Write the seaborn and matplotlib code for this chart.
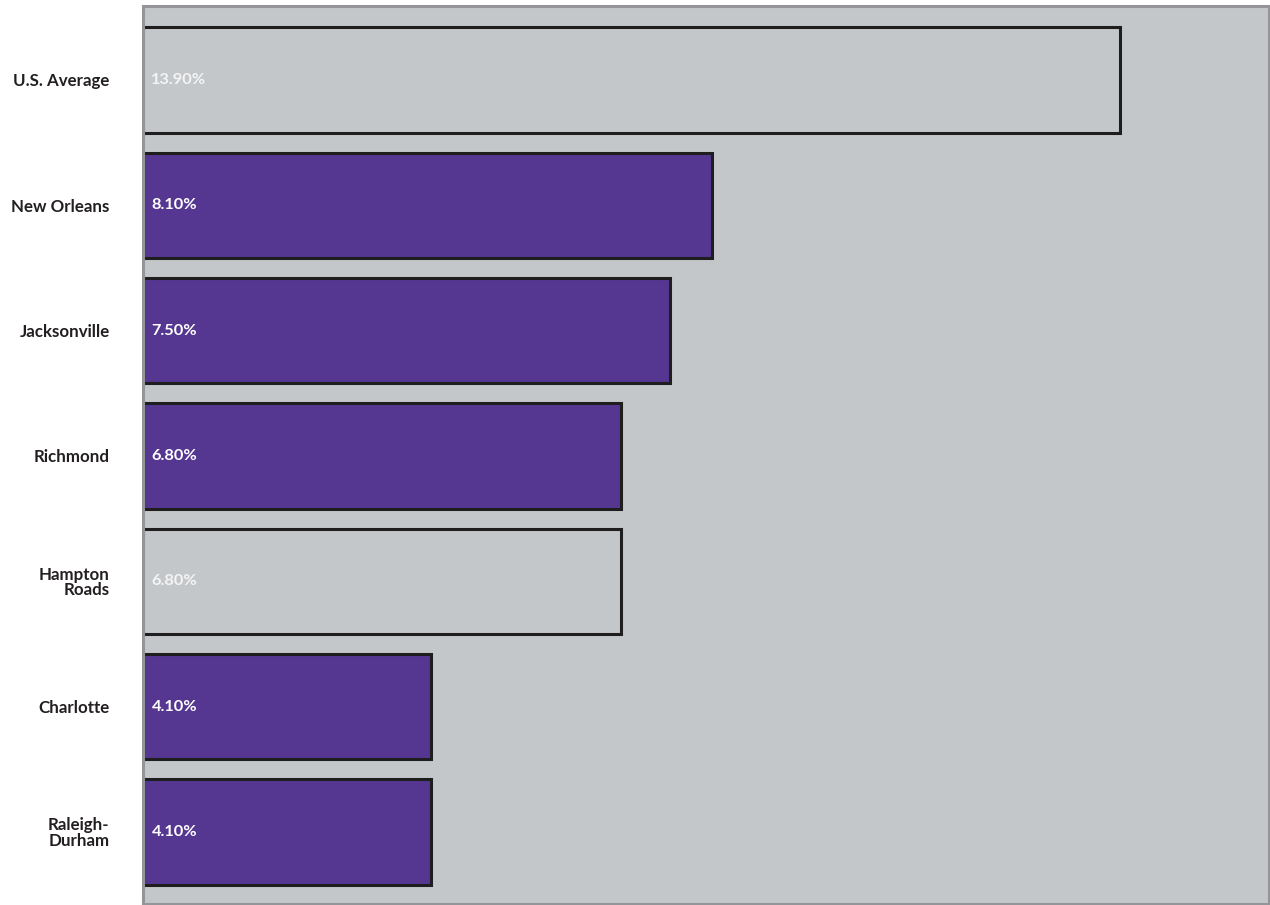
import pandas as pd
import matplotlib
matplotlib.use("Agg")
import matplotlib.pyplot as plt
import seaborn as sns

# data
cities = ["U.S. Average", "New Orleans", "Jacksonville", "Richmond",
          "Hampton\nRoads", "Charlotte", "Raleigh-\nDurham"]
rates = [13.9, 8.1, 7.5, 6.8, 6.8, 4.1, 4.1]
is_benchmark = [True, False, False, False, True, False, False]

bg_gray = "#c4c7ca"
purple = "#553691"
spine_gray = "#939598"

df = pd.DataFrame({"city": cities, "rate": rates, "bench": is_benchmark})
palette = {c: (bg_gray if b else purple) for c, b in zip(cities, is_benchmark)}

sns.set_style("white")
plt.rcParams['font.family'] = ['Lato', 'DejaVu Sans']

fig = plt.figure(figsize=(12.7, 9.05), dpi=100)
ax = fig.add_axes([143 / 1270, 1 / 905, 1126 / 1270, 898 / 905])
ax.set_facecolor(bg_gray)

sns.barplot(data=df, x="rate", y="city", hue="city", palette=palette,
            order=cities, width=0.84, edgecolor="#1e1e1e", linewidth=2.2,
            legend=False, saturation=1, ax=ax)

ax.set_xlim(0, 16.02)
ax.set_ylim(6.575, -0.59)
ax.set_xlabel("")
ax.set_ylabel("")
ax.set_xticks([])
ax.tick_params(axis="y", length=0, pad=24)
for lbl in ax.get_yticklabels():
    lbl.set_fontweight("bold")
    lbl.set_fontsize(12.2)
    lbl.set_color("#231f20")
    lbl.set_multialignment("right")
    lbl.set_linespacing(0.95)

for sp in ax.spines.values():
    sp.set_color(spine_gray)
    sp.set_linewidth(2.2)

# value labels inside bars
for i, (v, b) in enumerate(zip(rates, is_benchmark)):
    ax.text(0.12, i, f"{v:.2f}%", va="center", ha="left",
            color="#f4f4f4" if b else "white", fontweight="bold", fontsize=11.8)

fig.savefig("out.png", dpi=100)
